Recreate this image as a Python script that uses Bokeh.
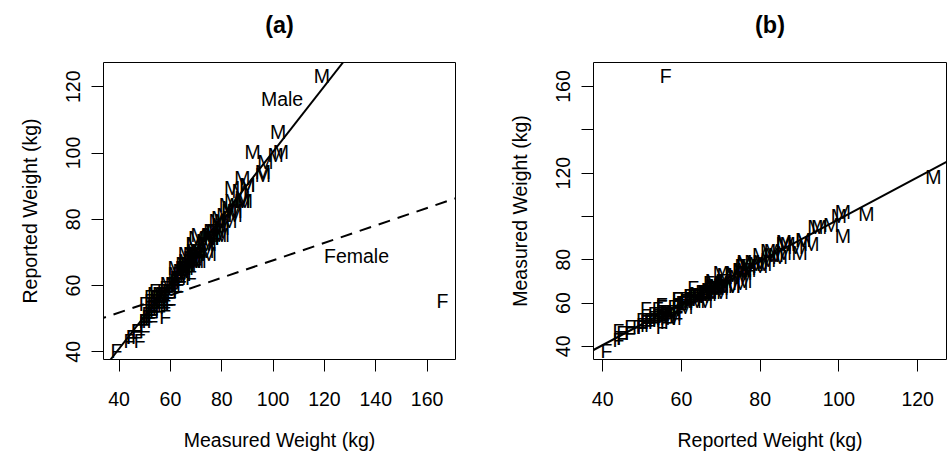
import numpy as np
from bokeh.plotting import figure
from bokeh.models import ColumnDataSource, Range1d, FixedTicker, Slope
from bokeh.layouts import row
from bokeh.core.properties import value
from bokeh.embed import file_html
from bokeh.resources import INLINE

# Davis data: sex, measured weight, reported weight (None = missing)
sex = ["M","F","F","M","F","M","M","M","M","M",
       "M","F","F","F","F","F","M","F","M","F",
       "M","F","M","M","F","F","F","F","F","M",
       "F","M","M","F","F","M","F","M","M","M",
       "F","M","F","M","M","F","M","F","F","F",
       "M","F","M","M","M","M","F","M","M","M",
       "M","M","M","F","M","F","F","F","F","M",
       "F","M","F","F","F","F","F","F","M","M",
       "F","M","F","F","F","M","M","F","F","F",
       "M","F","M","M","M","F","M","F","F","F",
       "F","M","F","F","F","F","F","F","F","F",
       "M","M","F","M","F","F","M","M","M","M",
       "M","M","F","F","M","F","F","F","F","F",
       "F","M","F","F","M","F","F","F","M","M",
       "M","F","F","F","F","F","F","F","F","M",
       "F","F","F","F","F","M","M","F","F","F",
       "F","F","F","F","M","F","F","F","M","F",
       "M","F","M","M","M","M","F","M","M","M",
       "M","F","M","F","M","F","F","F","M","F",
       "M","M","F","F","F","M","M","M","M","M"]

weight = [77,58,53,68,59,76,76,69,71,65,
          70,166,51,64,52,65,92,62,76,61,
          119,61,65,66,54,50,63,58,39,101,
          71,75,79,52,68,64,56,69,88,65,
          54,80,63,78,85,54,73,49,54,75,
          82,56,74,102,64,65,66,73,75,57,
          68,71,71,78,97,60,64,64,52,80,
          62,66,55,56,50,50,50,63,69,69,
          61,55,53,60,56,59,62,53,57,57,
          70,56,84,69,88,56,103,50,52,55,
          55,63,47,45,62,53,52,57,64,59,
          84,79,55,67,76,62,83,96,75,65,
          78,69,68,55,67,52,47,45,68,44,
          62,87,56,50,83,53,64,62,90,85,
          66,52,53,54,64,55,55,59,70,88,
          57,47,47,55,48,54,69,59,58,57,
          51,54,53,59,56,59,63,66,96,53,
          76,54,61,82,62,71,60,66,81,68,
          80,43,82,63,70,56,60,58,76,50,
          88,89,59,51,62,74,83,81,90,79]

repwt = [77,51,54,70,59,76,77,73,71,64,
         75,56,52,64,57,66,101,62,75,61,
         124,61,66,70,59,50,61,60,41,100,
         71,73,76,52,63,65,54,69,86,67,
         53,80,59,80,82,55,None,None,56,75,
         85,57,73,107,None,64,65,74,70,58,
         69,71,76,75,98,59,63,62,51,76,
         61,66,54,57,50,None,55,64,70,70,
         60,56,52,55,56,61,66,53,59,56,
         68,56,86,71,87,57,101,50,52,None,
         55,63,47,45,63,51,51,55,64,55,
         90,79,57,67,77,62,83,94,76,66,
         77,73,68,55,None,56,None,45,68,44,
         61,89,53,47,84,53,62,None,91,83,
         68,53,55,55,66,55,55,55,67,86,
         58,47,45,None,44,58,68,None,None,56,
         50,54,52,58,58,59,62,66,95,50,
         75,None,61,None,64,68,None,67,82,68,
         78,None,None,59,70,56,55,54,75,49,
         93,86,59,51,61,71,80,None,91,81]

# fitted lines (intercept, slope)
fit_a_female = (41.32, 0.2630)
fit_a_male = (1.36, 0.990)
fit_b = (1.8, 0.969)

ticks_a_x = [40, 60, 80, 100, 120, 140, 160]
ticks_a_y = [40, 60, 80, 100, 120]
ticks_b_x = [40, 60, 80, 100, 120]
ticks_b_y = [40, 60, 80, 100, 120, 140, 160]
hidden_b_y = {100: "", 140: ""}

FONT = "Liberation Sans"
FS = "19.5px"

keep = [i for i, r in enumerate(repwt) if r is not None]
S = [sex[i] for i in keep]
W = np.array([weight[i] for i in keep], dtype=float)
R = np.array([repwt[i] for i in keep], dtype=float)


def rrange(v):
    lo, hi = float(np.min(v)), float(np.max(v))
    d = (hi - lo) * 0.04
    return Range1d(lo - d, hi + d)


def style(p, xt, yt, xlab, ylab, title, yover=None):
    p.title.text = title
    p.title.align = "center"
    p.title.vertical_align = "bottom"
    p.title.text_font = FONT
    p.title.text_font_size = "23.4px"
    p.title.text_font_style = "bold"
    p.title.text_color = "black"
    p.title.standoff = 0
    p.title.padding = dict(left=0, right=0, top=0, bottom=25)
    p.grid.visible = False
    p.outline_line_color = "black"
    p.outline_line_alpha = 1
    p.outline_line_width = 1
    p.background_fill_color = "white"
    p.border_fill_color = "white"
    p.xaxis.ticker = FixedTicker(ticks=xt)
    p.yaxis.ticker = FixedTicker(ticks=yt)
    if yover:
        p.yaxis.major_label_overrides = yover
    p.yaxis.major_label_orientation = "vertical"
    for ax in (p.xaxis[0], p.yaxis[0]):
        ax.axis_line_color = None
        ax.major_tick_out = 12
        ax.major_tick_in = 0
        ax.minor_tick_out = 0
        ax.minor_tick_in = 0
        ax.major_tick_line_color = "black"
        ax.major_label_text_font = FONT
        ax.major_label_text_font_size = FS
        ax.major_label_text_color = "black"
        ax.axis_label_text_font = FONT
        ax.axis_label_text_font_size = FS
        ax.axis_label_text_font_style = "normal"
        ax.axis_label_text_color = "black"
    p.xaxis.axis_label = xlab
    p.yaxis.axis_label = ylab
    p.xaxis.major_label_standoff = 20
    p.xaxis.axis_label_standoff = 20
    p.yaxis.major_label_standoff = 11
    p.yaxis.axis_label_standoff = 23


# panel (a)
pa = figure(width=475, height=453, x_range=rrange(W), y_range=rrange(R),
            output_backend="svg", toolbar_location=None,
            min_border_left=103, min_border_right=20,
            min_border_top=62, min_border_bottom=93)
style(pa, ticks_a_x, ticks_a_y, "Measured Weight (kg)", "Reported Weight (kg)", "(a)")
src_a = ColumnDataSource(dict(x=W, y=R, s=S))
pa.text(x="x", y="y", text="s", source=src_a, text_font=value(FONT),
        text_font_size=FS, text_align="center", text_baseline="middle",
        text_color="black", y_offset=2)
pa.add_layout(Slope(gradient=fit_a_male[1], y_intercept=fit_a_male[0],
                    line_color="black", line_width=2))
pa.add_layout(Slope(gradient=fit_a_female[1], y_intercept=fit_a_female[0],
                    line_color="black", line_width=2, line_dash="12 8"))
lab_src = ColumnDataSource(dict(x=[103.5, 132.5], y=[116.2, 68.9], t=["Male", "Female"]))
pa.text(x="x", y="y", text="t", source=lab_src, text_font=value(FONT),
        text_font_size=FS, text_align="center", text_baseline="middle",
        text_color="black")

# panel (b)
pb = figure(width=476, height=453, x_range=rrange(R), y_range=rrange(W),
            output_backend="svg", toolbar_location=None,
            min_border_left=118, min_border_right=5,
            min_border_top=62, min_border_bottom=94)
style(pb, ticks_b_x, ticks_b_y, "Reported Weight (kg)", "Measured Weight (kg)", "(b)",
      yover=hidden_b_y)
src_b = ColumnDataSource(dict(x=R, y=W, s=S))
pb.text(x="x", y="y", text="s", source=src_b, text_font=value(FONT),
        text_font_size=FS, text_align="center", text_baseline="middle",
        text_color="black", y_offset=2)
pb.add_layout(Slope(gradient=fit_b[1], y_intercept=fit_b[0],
                    line_color="black", line_width=2))

layout = row(pa, pb)
open("out.html", "w").write(file_html(layout, INLINE))
